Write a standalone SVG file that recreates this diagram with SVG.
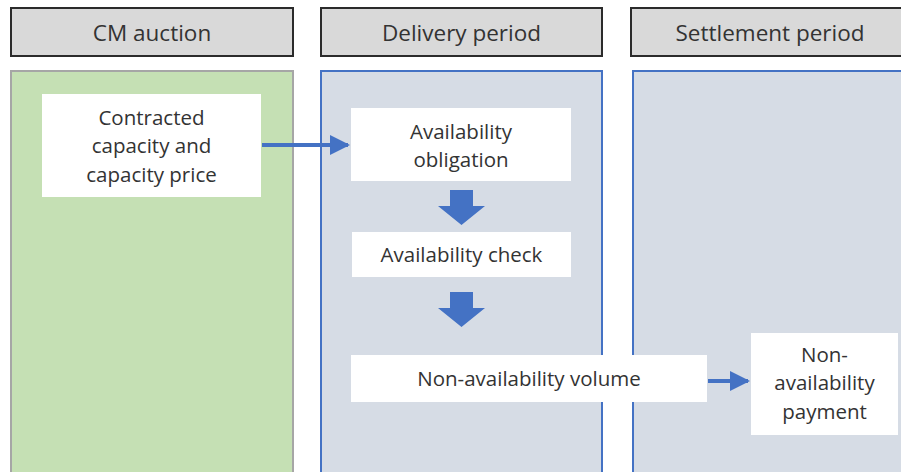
<svg xmlns="http://www.w3.org/2000/svg" width="901" height="472" viewBox="0 0 901 472">
<style>
.hdr{fill:#d9d9d9;stroke:#2b2b2b;stroke-width:2}
.ht{font-family:"Open Sans","Liberation Sans",sans-serif;font-size:22.5px;fill:#333;text-anchor:middle}
.box{fill:#fff}
.t{font-family:"Open Sans","Liberation Sans",sans-serif;font-size:20.5px;fill:#333;text-anchor:middle}
.blue{fill:#d6dce5;stroke:#4472c4;stroke-width:2}
.conn{stroke:#4472c4;stroke-width:4;fill:none}
.blk{fill:#4472c4}
</style>
<defs>
<marker id="ah" markerWidth="5" markerHeight="5" refX="4.5" refY="2.5" orient="auto" markerUnits="strokeWidth">
<path d="M0,0 L5,2.5 L0,5 Z" fill="#4472c4"/>
</marker>
</defs>
<g id="hdr-cm"><rect class="hdr" x="11" y="8" width="282" height="48"/><text class="ht" x="152" y="40.500">CM auction</text></g>
<g id="hdr-delivery"><rect class="hdr" x="321" y="8" width="281" height="48"/><text class="ht" x="461.500" y="40.500">Delivery period</text></g>
<g id="hdr-settlement"><rect class="hdr" x="631" y="8" width="290" height="48"/><text class="ht" x="770" y="40.500">Settlement period</text></g>
<g id="panel-cm"><rect x="11" y="71" width="282" height="410" fill="#c5e0b4" stroke="#a6a6a6" stroke-width="2"/></g>
<g id="panel-delivery"><rect class="blue" x="321" y="71" width="281" height="410"/></g>
<g id="panel-settlement"><rect class="blue" x="633" y="71" width="290" height="410"/></g>
<g id="n-contracted"><rect class="box" x="42" y="94" width="219" height="103"/>
<text class="t" x="151.500" y="124.500">Contracted</text><text class="t" x="151.500" y="152.500">capacity and</text><text class="t" x="151.500" y="182">capacity price</text></g>
<g id="n-obligation"><rect class="box" x="351" y="108" width="220" height="73"/>
<text class="t" x="461" y="138.500">Availability</text><text class="t" x="461" y="166.500">obligation</text></g>
<g id="n-check"><rect class="box" x="352" y="232" width="219" height="45"/>
<text class="t" x="461.500" y="262">Availability check</text></g>
<g id="n-volume"><rect class="box" x="351" y="355" width="356" height="47"/>
<text class="t" x="529" y="386">Non-availability volume</text></g>
<g id="n-payment"><rect class="box" x="751" y="333" width="147" height="102"/>
<text class="t" x="824.500" y="362">Non-</text><text class="t" x="824.500" y="390">availability</text><text class="t" x="824.500" y="419">payment</text></g>
<g id="connectors">
<line class="conn" x1="262" y1="145" x2="348" y2="145" marker-end="url(#ah)"/>
<line class="conn" x1="708" y1="381" x2="748" y2="381" marker-end="url(#ah)"/>
<path class="blk" d="M450,190 H473 V206 H485 L461.500,225 L438,206 H450 Z"/>
<path class="blk" d="M450,292 H473 V308 H485 L461.500,327 L438,308 H450 Z"/>
</g>
</svg>
